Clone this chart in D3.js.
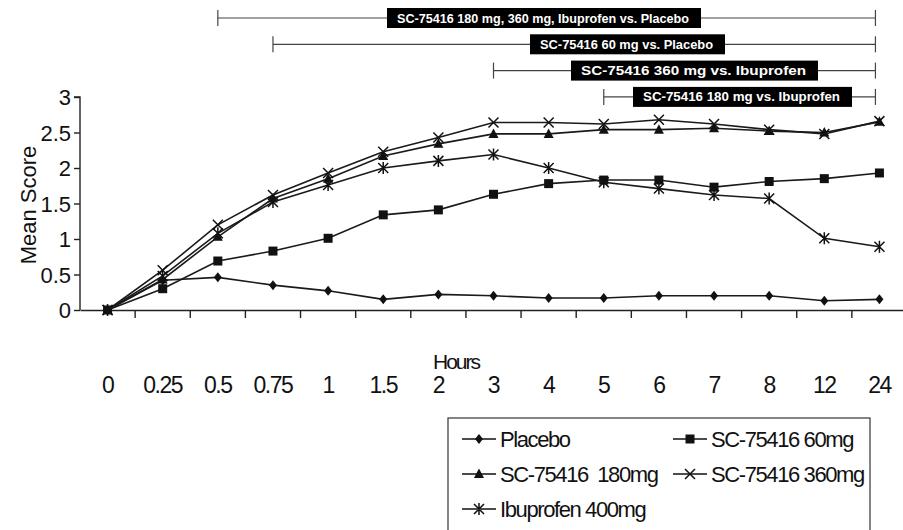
<!DOCTYPE html>
<html>
<head>
<meta charset="utf-8">
<script src="https://cdn.jsdelivr.net/npm/d3@7"></script>
<style>
body { margin: 0; background: #fff; }
text { font-family: "Liberation Sans Narrow", "Liberation Sans", Arial, sans-serif; }
</style>
</head>
<body>
<svg id="chart" width="903" height="530"></svg>
<script>
var svg = d3.select('#chart');

var hours = ['0', '0.25', '0.5', '0.75', '1', '1.5', '2', '3', '4', '5', '6', '7', '8', '12', '24'];
var placebo = [0, 0.42, 0.46, 0.35, 0.27, 0.15, 0.22, 0.20, 0.17, 0.17, 0.20, 0.20, 0.20, 0.13, 0.15];
var sc60 = [0, 0.30, 0.69, 0.83, 1.01, 1.34, 1.41, 1.63, 1.78, 1.83, 1.83, 1.73, 1.81, 1.85, 1.93];
var sc180 = [0, 0.43, 1.03, 1.57, 1.85, 2.17, 2.34, 2.48, 2.48, 2.54, 2.54, 2.56, 2.52, 2.50, 2.65];
var sc360 = [0, 0.56, 1.20, 1.62, 1.93, 2.23, 2.43, 2.64, 2.64, 2.62, 2.68, 2.62, 2.54, 2.48, 2.66];
var ibuprofen = [0, 0.48, 1.08, 1.52, 1.76, 2.00, 2.10, 2.19, 2.00, 1.80, 1.71, 1.62, 1.57, 1.01, 0.89];
var y_ticks = [0, 0.5, 1, 1.5, 2, 2.5, 3];

var series = [
	{name: 'Placebo', vals: placebo, mark: 'diamond'},
	{name: 'SC-75416 60mg', vals: sc60, mark: 'square'},
	{name: 'SC-75416  180mg', vals: sc180, mark: 'triangle'},
	{name: 'SC-75416 360mg', vals: sc360, mark: 'cross'},
	{name: 'Ibuprofen 400mg', vals: ibuprofen, mark: 'asterisk'}
];

// significance brackets: from hour, to hour, label, box x / width
var brackets = [
	{from: '0.5', to: '24', label: 'SC-75416 180 mg, 360 mg, Ibuprofen vs. Placebo', bx: 387, bw: 314},
	{from: '0.75', to: '24', label: 'SC-75416 60 mg vs. Placebo', bx: 530, bw: 195},
	{from: '3', to: '24', label: 'SC-75416 360 mg vs. Ibuprofen', bx: 571, bw: 247},
	{from: '5', to: '24', label: 'SC-75416 180 mg vs. Ibuprofen', bx: 633, bw: 219}
];

var x = d3.scaleBand().domain(hours).range([80, 907]);
var y = d3.scaleLinear().domain([0, 3]).range([310, 97]);
var cx = h => x(h) + x.bandwidth() / 2;

// axes
var yAxis = svg.append('g').attr('transform', 'translate(80,0)')
	.call(d3.axisLeft(y).tickValues(y_ticks).tickSize(6).tickFormat(d3.format('')));
yAxis.select('.domain').attr('stroke', '#222').attr('stroke-width', 1.4).attr('d', 'M-6,97H0V310');
yAxis.selectAll('.tick line').attr('stroke', '#222').attr('stroke-width', 1.4);
yAxis.selectAll('.tick text').attr('font-size', 22).attr('fill', '#111').attr('dy', '0.35em').attr('x', -9);

var xAxis = svg.append('g').attr('transform', 'translate(0,310)')
	.call(d3.axisBottom(x).tickSize(0).tickFormat(''));
xAxis.select('.domain').attr('stroke', '#222').attr('stroke-width', 1.4);
svg.append('g').selectAll('line').data(hours).enter().append('line')
	.attr('x1', d => x(d) + x.bandwidth()).attr('x2', d => x(d) + x.bandwidth())
	.attr('y1', 310).attr('y2', 318).attr('stroke', '#222').attr('stroke-width', 1.4);

svg.append('g').selectAll('text').data(hours).enter().append('text')
	.attr('x', d => cx(d)).attr('y', 393).attr('text-anchor', 'middle')
	.attr('font-size', 23).attr('letter-spacing', -1.5).attr('fill', '#111').text(d => d);

svg.append('text').attr('x', 456).attr('y', 369).attr('text-anchor', 'middle')
	.attr('font-size', 21).attr('letter-spacing', -2).attr('fill', '#111').text('Hours');

svg.append('text').attr('transform', 'translate(36,205) rotate(-90)').attr('text-anchor', 'middle')
	.attr('font-size', 22).attr('fill', '#111').text('Mean Score');

// markers
function marker(g, type, px, py) {
	if (type === 'diamond')
		g.append('path').attr('d', `M${px},${py-5}L${px+4},${py}L${px},${py+5}L${px-4},${py}Z`).attr('fill', '#111');
	else if (type === 'square')
		g.append('rect').attr('x', px-4.5).attr('y', py-4.5).attr('width', 9).attr('height', 9).attr('fill', '#111');
	else if (type === 'triangle')
		g.append('path').attr('d', `M${px},${py-5.5}L${px+5},${py+4}L${px-5},${py+4}Z`).attr('fill', '#111');
	else if (type === 'cross')
		g.append('path').attr('d', `M${px-5},${py-5}L${px+5},${py+5}M${px-5},${py+5}L${px+5},${py-5}`)
			.attr('stroke', '#111').attr('stroke-width', 1.5);
	else
		g.append('path').attr('d', `M${px-5},${py-5}L${px+5},${py+5}M${px-5},${py+5}L${px+5},${py-5}M${px},${py-6}V${py+6}`)
			.attr('stroke', '#111').attr('stroke-width', 1.5);
}

var line = d3.line().x((d, i) => cx(hours[i])).y(d => y(d));
series.forEach(function(s) {
	var g = svg.append('g');
	g.append('path').attr('d', line(s.vals)).attr('fill', 'none').attr('stroke', '#1a1a1a').attr('stroke-width', 1.6);
	s.vals.forEach((v, i) => marker(g, s.mark, cx(hours[i]), y(v)));
});

// brackets
brackets.forEach(function(b, i) {
	var yy = 18 + i * 26.3;
	var g = svg.append('g');
	g.append('line').attr('x1', cx(b.from)).attr('x2', cx(b.to) - 4).attr('y1', yy).attr('y2', yy)
		.attr('stroke', '#444').attr('stroke-width', 1.2);
	[cx(b.from), cx(b.to) - 4].forEach(px => g.append('line').attr('x1', px).attr('x2', px)
		.attr('y1', yy - 8).attr('y2', yy + 8).attr('stroke', '#444').attr('stroke-width', 1.2));
	g.append('rect').attr('x', b.bx).attr('y', yy - 10).attr('width', b.bw).attr('height', 20).attr('fill', '#000');
	g.append('text').attr('x', b.bx + 10).attr('y', yy + 4.5)
		.attr('font-family', 'Open Sans, sans-serif').attr('font-weight', 'bold')
		.attr('font-size', 12).attr('textLength', b.bw - 22).attr('lengthAdjust', 'spacingAndGlyphs')
		.attr('fill', '#fff').text(b.label);
});

// legend
var lg = svg.append('g');
lg.append('rect').attr('x', 448).attr('y', 418).attr('width', 422).attr('height', 118)
	.attr('fill', 'none').attr('stroke', '#333').attr('stroke-width', 1.2);
series.forEach(function(s, i) {
	var lx = i % 2 === 0 ? 462 : 673, ly = 439 + Math.floor(i / 2) * 35;
	lg.append('line').attr('x1', lx).attr('x2', lx + 34).attr('y1', ly).attr('y2', ly)
		.attr('stroke', '#111').attr('stroke-width', 1.5);
	marker(lg, s.mark, lx + 17, ly);
	lg.append('text').attr('x', lx + 38).attr('y', ly + 8).attr('font-size', 22).attr('letter-spacing', -1.4)
		.attr('fill', '#111').style('white-space', 'pre').text(s.name);
});
</script>
</body>
</html>
